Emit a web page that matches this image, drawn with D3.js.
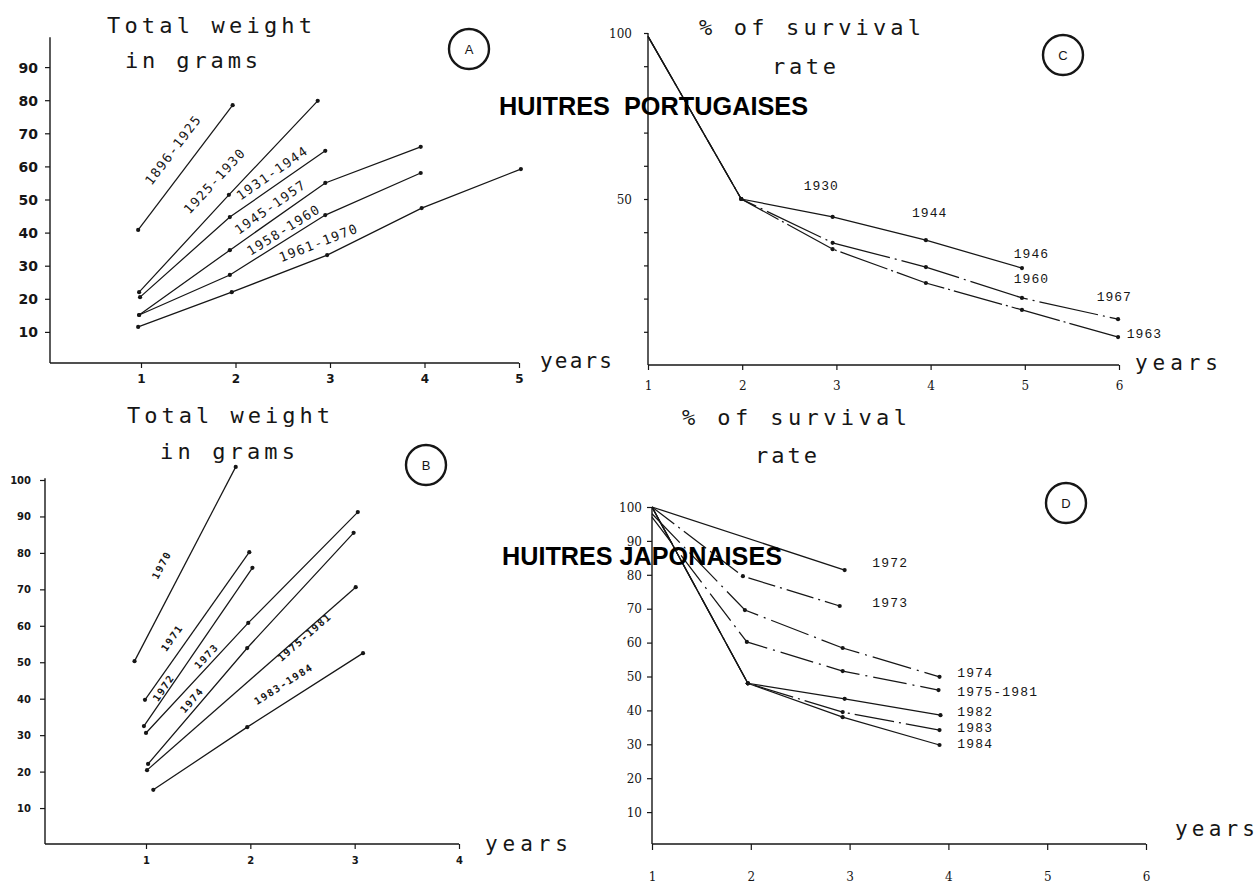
<!DOCTYPE html>
<html><head><meta charset="utf-8">
<script src="https://cdn.jsdelivr.net/npm/d3@7/dist/d3.min.js"></script>
<style>body{margin:0;background:#fff}svg{display:block}</style>
</head><body>
<svg id="c" width="1257" height="884"></svg>
<script>
// ---------------- DATA ----------------
// Panel A : Portuguese oysters, total weight (g) by age (years)
const seriesA = ["1896-1925","1925-1930","1931-1944","1945-1957","1958-1960","1961-1970"];
const xA = [[0.97,1.97],[0.98,1.93,2.87],[0.99,1.94,2.95],[0.98,1.94,2.95,3.96],[0.98,1.94,2.95,3.96],[0.97,1.96,2.97,3.97,5.02]];
const yA = [[40.8,78.5],[22,51.4,79.8],[20.5,44.7,64.7],[15.1,34.7,55,65.9],[15.1,27.2,45.3,58],[11.5,22,33.2,47.4,59.2]];
const yTicksA = [10,20,30,40,50,60,70,80,90];
const xTicksA = [1,2,3,4,5];

// Panel B : Japanese oysters, total weight (g)
const seriesB = ["1970","1971","1972","1973","1974","1975-1981","1983-1984"];
const xB = [[0.89,1.86],[0.99,1.99],[0.98,2.02],[1.0,1.98,3.03],[1.02,1.97,2.99],[1.01,3.01],[1.07,1.97,3.08]];
const yB = [[50.3,103.6],[39.7,80.2],[32.5,75.9],[30.6,60.8,91.2],[22.1,53.9,85.5],[20.4,70.6],[15,32.2,52.5]];
const yTicksB = [10,20,30,40,50,60,70,80,90,100];
const xTicksB = [1,2,3,4];

// Panel C : Portuguese oysters, % survival
const seriesC = ["1930-1946","1960-1967","1963"];
const xC = [[1,1.99,2.96,3.95,4.97],[1,1.99,2.96,3.95,4.97,5.99],[1,1.99,2.96,3.95,4.97,5.99]];
const yC = [[99,50,44.6,37.6,29.2],[99,50,36.8,29.5,20.2,13.8],[99,50,34.9,24.7,16.6,8.4]];
const labelTextC = ["1930","1944","1946","1960","1967","1963"];
const yTicksC = [10,20,30,40,50,60,70,80,90,100];
const yTickLabelsC = [50,100];
const xTicksC = [1,2,3,4,5,6];

// Panel D : Japanese oysters, % survival
const seriesD = ["1972","1973","1974","1975-1981","1982","1983","1984"];
const xD = [[1,2.95],[1,1.92,2.9],[1,1.94,2.93,3.91],[1,1.96,2.93,3.9],[1,1.97,2.95,3.92],[1,1.97,2.93,3.91],[1,1.97,2.93,3.91]];
const yD = [[100,81.4],[100,79.6,70.8],[98,69.6,58.4,49.9],[97,60.2,51.6,46],[100,48,43.4,38.6],[100,48,39.5,34.2],[100,48,38,29.8]];
const yTicksD = [10,20,30,40,50,60,70,80,90,100];
const xTicksD = [1,2,3,4,5,6];

// ---------------- LAYOUT / STYLE ----------------
const labelPosA = [{s:0,seg:0,x:1.34,y:65},{s:1,seg:0,x:1.78,y:55.6},{s:2,seg:1,x:2.39,y:58},{s:3,seg:1,x:2.37,y:47.7},{s:4,seg:1,x:2.51,y:40.8},{s:5,seg:1,x:2.88,y:36.9}];
const labelPosB = [{s:0,seg:0,x:1.15,y:76.7},{s:1,seg:0,x:1.25,y:56.7},{s:2,seg:0,x:1.17,y:43},{s:3,seg:0,x:1.58,y:51.7},{s:4,seg:0,x:1.44,y:39.6},{s:5,seg:0,x:2.52,y:56.9},{s:6,seg:1,x:2.32,y:44}];
const labelPosC = [{x:2.84,y:53.9},{x:3.99,y:45.5},{x:5.07,y:33.4},{x:5.07,y:25.9},{x:5.95,y:20.3},{x:6.27,y:9.3}];
const labelPosD = [{x:3.23,y:83.2},{x:3.23,y:71.4},{x:4.09,y:51},{x:4.09,y:45.4},{x:4.09,y:39.5},{x:4.09,y:34.8},{x:4.09,y:29.8}];
const dashC = ["none","60,5,2,5","50,4,2,4"];
const dashD = ["none","28,5,2,5","40,6,2,6","34,6,2,6","none","40,5,2,5","none"];

const INK = "#161616";
const svg = d3.select("#c");
const line = d3.line();

function panel(o) {
  const g = svg.append("g");
  const x = d3.scaleLinear().domain(o.xDomain).range(o.xRange);
  const y = d3.scaleLinear().domain([0,100]).range(o.yRange);
  // y axis
  const ya = d3.axisLeft(y).tickValues(o.yTicks).tickSize(o.yTickLen).tickSizeOuter(0).tickPadding(o.yPad)
     .tickFormat(d => o.yLabels ? (o.yLabels.includes(d) ? d : "") : d);
  const yg = g.append("g").attr("transform",`translate(${o.axisX},0)`).call(ya);
  yg.select(".domain").remove();
  yg.selectAll(".tick line").attr("stroke",INK).attr("stroke-width",1.2);
  yg.selectAll(".tick text").attr("fill",INK).style("font",o.yFont).attr("dy","0.35em");
  g.append("line").attr("x1",o.axisX).attr("x2",o.axisX).attr("y1",o.xAxisY).attr("y2",y(o.yTop))
    .attr("stroke",INK).attr("stroke-width",1.4);
  // x axis
  const xa = d3.axisBottom(x).tickValues(o.xTicks).tickSize(o.xTickLen).tickPadding(o.xPad).tickFormat(d3.format("d"));
  const xg = g.append("g").attr("transform",`translate(0,${o.xAxisY})`).call(xa);
  xg.select(".domain").remove();
  xg.selectAll(".tick line").attr("stroke",INK).attr("stroke-width",1.2);
  xg.selectAll(".tick text").attr("fill",INK).style("font",o.xFont);
  g.append("line").attr("x1",o.axisX).attr("x2",x(o.xTicks[o.xTicks.length-1])).attr("y1",o.xAxisY).attr("y2",o.xAxisY)
    .attr("stroke",INK).attr("stroke-width",1.6);
  // series
  o.xs.forEach((xs,i) => {
    const pts = xs.map((v,j) => [x(v), y(o.ys[i][j])]);
    g.append("path").attr("d",line(pts)).attr("fill","none").attr("stroke",INK)
      .attr("stroke-width",1.25).attr("stroke-dasharray",o.dash ? o.dash[i] : "none");
    g.selectAll(null).data(pts.slice(o.skipFirst ? 1 : 0)).join("circle")
      .attr("cx",d=>d[0]).attr("cy",d=>d[1]).attr("r",2.1).attr("fill",INK);
  });
  // rotated labels along segments
  if (o.rotLabels) o.rotLabels.forEach(l => {
    const xs = o.xs[l.s], ys = o.ys[l.s];
    const dx = x(xs[l.seg+1]) - x(xs[l.seg]), dy = y(ys[l.seg+1]) - y(ys[l.seg]);
    const ang = Math.atan2(dy,dx)*180/Math.PI;
    g.append("text").attr("transform",`translate(${x(l.x)},${y(l.y)}) rotate(${ang})`)
      .attr("text-anchor","middle").attr("dominant-baseline","central")
      .style("font",o.labelFont).attr("fill",INK).attr("letter-spacing",o.labelSpacing).text(o.names[l.s]);
  });
  if (o.flatLabels) o.flatLabels.forEach((l,i) => {
    g.append("text").attr("x",x(l.x)).attr("y",y(l.y)).attr("text-anchor",o.flatAnchor)
      .attr("dominant-baseline","central").style("font",o.labelFont).attr("fill",INK)
      .attr("letter-spacing",o.labelSpacing).text(o.flatText[i]);
  });
  return {x,y};
}

function mono(txt, x, y, len, size) {
  svg.append("text").attr("x",x).attr("y",y).attr("textLength",len).attr("lengthAdjust","spacing")
    .style("font",`${size}px 'DejaVu Sans Mono', monospace`).attr("fill",INK).text(txt);
}
function badge(letter, cx, cy) {
  svg.append("circle").attr("cx",cx).attr("cy",cy).attr("r",20).attr("fill","none").attr("stroke",INK).attr("stroke-width",2.4);
  svg.append("text").attr("x",cx).attr("y",cy).attr("text-anchor","middle").attr("dominant-baseline","central")
    .style("font","13px 'Liberation Sans', Arial, sans-serif").attr("fill",INK).text(letter);
}
function banner(txt, x, y, len) {
  svg.append("text").attr("x",x).attr("y",y).attr("textLength",len).attr("lengthAdjust","spacingAndGlyphs")
    .style("font","bold 26px 'Liberation Sans', Arial, sans-serif").style("white-space","pre")
    .attr("fill","#000").text(txt);
}

// Panel A
panel({xDomain:[1,5], xRange:[141,519], yRange:[365,34], axisX:50, xAxisY:363, yTop:99,
  yTicks:yTicksA, yTickLen:5, yPad:7, yFont:"bold 14px 'DejaVu Sans', sans-serif",
  xTicks:xTicksA, xTickLen:5, xPad:6, xFont:"bold 12px 'DejaVu Sans', sans-serif",
  xs:xA, ys:yA, names:seriesA, rotLabels:labelPosA,
  labelFont:"13px 'DejaVu Sans Mono', monospace", labelSpacing:1.5});
// Panel B
panel({xDomain:[1,4], xRange:[146,459], yRange:[844.5,480], axisX:45, xAxisY:844, yTop:100.5,
  yTicks:yTicksB, yTickLen:5, yPad:9, yFont:"bold 10px 'DejaVu Sans', sans-serif",
  xTicks:xTicksB, xTickLen:5, xPad:8, xFont:"bold 10px 'DejaVu Sans', sans-serif",
  xs:xB, ys:yB, names:seriesB, rotLabels:labelPosB,
  labelFont:"bold 10px 'DejaVu Sans Mono', monospace", labelSpacing:1.5});
// Panel C
panel({xDomain:[1,6], xRange:[648,1119], yRange:[365,33], axisX:648, xAxisY:365, yTop:100,
  yTicks:yTicksC, yLabels:yTickLabelsC, yTickLen:4, yPad:12, yFont:"12px 'DejaVu Serif', serif",
  xTicks:xTicksC, xTickLen:5, xPad:11, xFont:"12px 'DejaVu Serif', serif",
  xs:xC, ys:yC, dash:dashC, skipFirst:true,
  flatLabels:labelPosC, flatText:labelTextC, flatAnchor:"middle",
  labelFont:"13px 'Liberation Mono', monospace", labelSpacing:1});
// Panel D
panel({xDomain:[1,6], xRange:[652,1146], yRange:[846,507], axisX:652, xAxisY:844, yTop:100,
  yTicks:yTicksD, yTickLen:5, yPad:5, yFont:"12px 'DejaVu Serif', serif",
  xTicks:xTicksD, xTickLen:6, xPad:22, xFont:"12px 'DejaVu Serif', serif",
  xs:xD, ys:yD, dash:dashD, skipFirst:true,
  flatLabels:labelPosD, flatText:seriesD, flatAnchor:"start",
  labelFont:"13px 'Liberation Mono', monospace", labelSpacing:1.2});

// titles
mono("Total weight",107,33,205,22);
mono("in grams",125,68,133,22);
mono("Total weight",127,423,203,22);
mono("in grams",160,459,135,22);
mono("% of survival",699,35,222,22);
mono("rate",772,74,64,22);
mono("% of survival",682,425,225,22);
mono("rate",755,463,62,22);
mono("years",540,368,72,21);
mono("years",1135,370,83,21);
mono("years",485,851,83,21);
mono("years",1175,836,80,21);

banner("HUITRES  PORTUGAISES",499,115,309);
banner("HUITRES JAPONAISES",502,565,280);

badge("A",469,49);
badge("B",426,465);
badge("C",1063,55);
badge("D",1066,503);
</script>
</body></html>
